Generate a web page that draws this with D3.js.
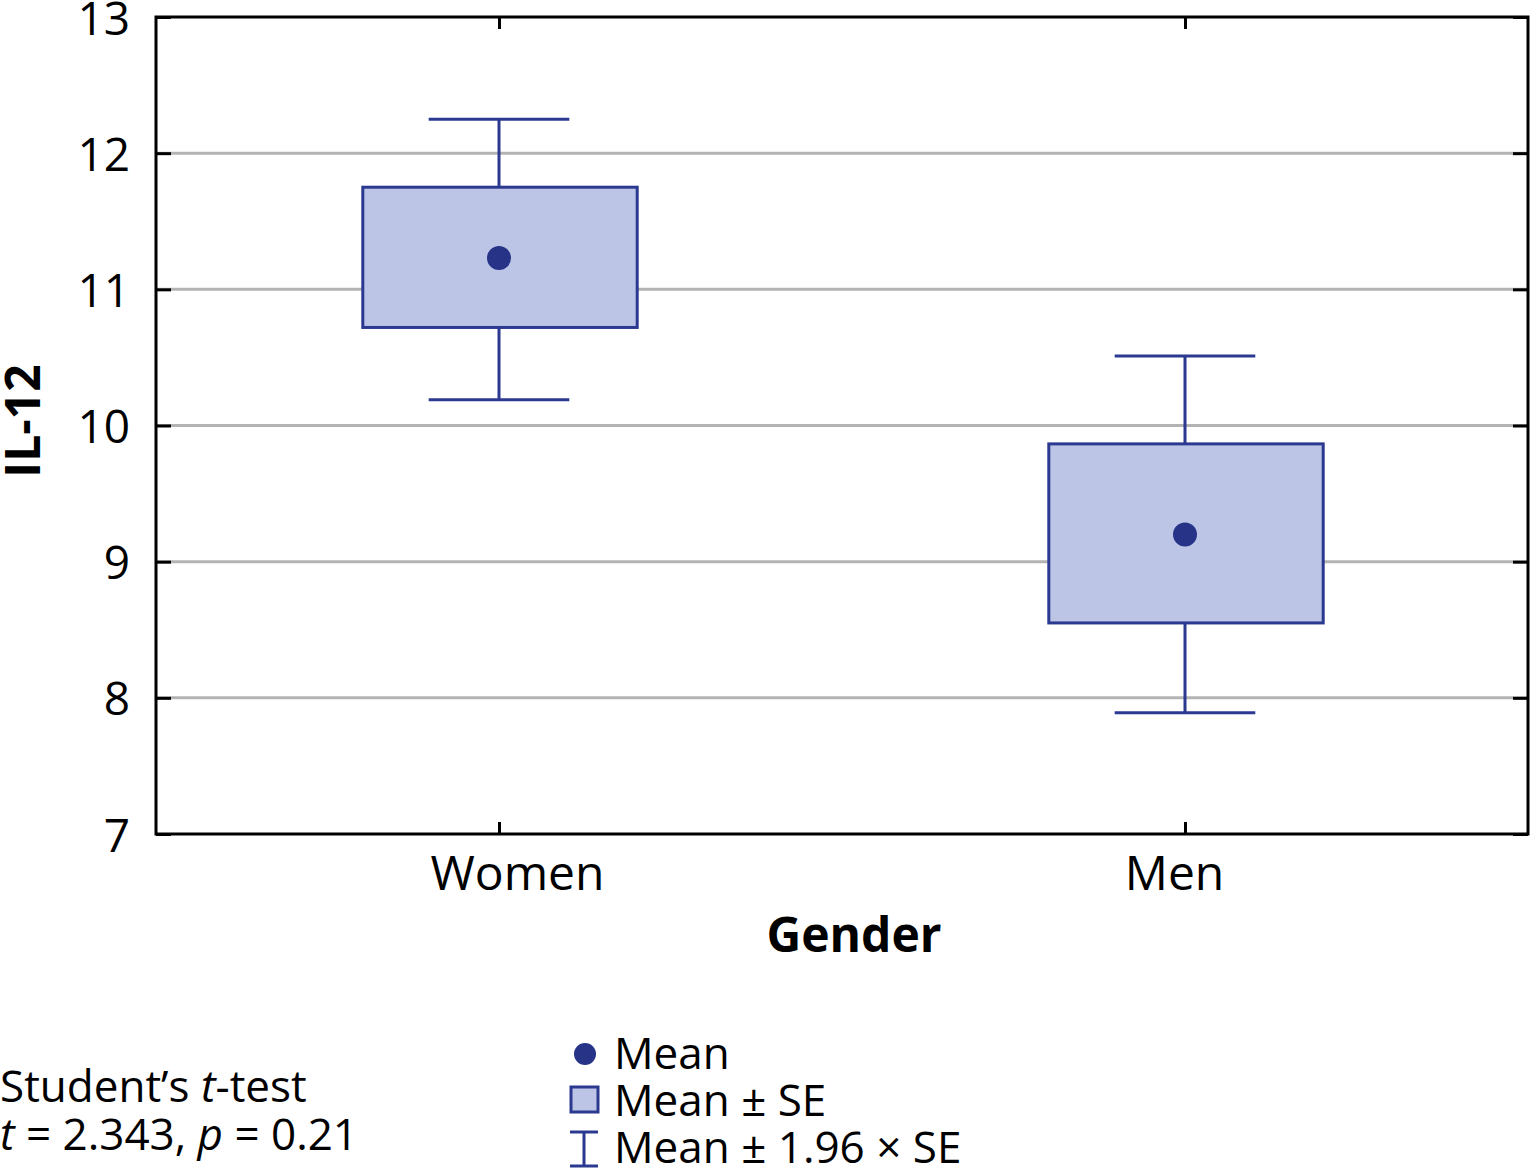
<html>
  <head>
    <meta charset="utf-8"/>
    <style>
      body {
        margin: 0;
        background: white;
      }
      text {
        font-family: "Open Sans", "Noto Sans", sans-serif;
        fill: black;
      }
    </style>
    <script src="https://d3js.org/d3.v7.min.js"></script>
  </head>
  <body>
    <script>
    var width = 1532, height = 1170;

    // values
    var groups = ["Women", "Men"];
    var means = [11.23, 9.20];
    var seLow = [10.72, 8.55];
    var seHigh = [11.75, 9.865];
    var ciLow = [10.19, 7.89];
    var ciHigh = [12.25, 10.51];
    var yTicks = [7, 8, 9, 10, 11, 12, 13];
    var gridTicks = [8, 9, 10, 11, 12];
    var legendLabels = ["Mean", "Mean \u00b1 SE", "Mean \u00b1 1.96 \u00d7 SE"];

    var blue = "#2b3990", fillBlue = "#bcc5e6", dotBlue = "#263387";
    var pL = 156, pR = 1528, pT = 17, pB = 834;

    var svg = d3.select("body").append("svg")
                .attr("width", width).attr("height", height);

    var x = d3.scalePoint().domain(groups).range([pL, pR]).padding(0.5);
    var y = d3.scaleLinear().domain([7, 13]).range([pB, pT]);

    // grid
    svg.append("g").selectAll("line")
       .data(gridTicks).enter().append("line")
       .attr("x1", pL).attr("x2", pR)
       .attr("y1", d => y(d)).attr("y2", d => y(d))
       .attr("stroke", "#b3b3b3").attr("stroke-width", 3);

    var data = groups.map((g, i) => ({
      g: g, mean: means[i], lo: seLow[i], hi: seHigh[i], cl: ciLow[i], ch: ciHigh[i]
    }));

    var boxW = x.step() * 0.4, capW = x.step() * 0.205;
    var box = svg.append("g").selectAll("g").data(data).enter().append("g");

    // whiskers
    box.append("line")
       .attr("x1", d => x(d.g)).attr("x2", d => x(d.g))
       .attr("y1", d => y(d.ch)).attr("y2", d => y(d.cl))
       .attr("stroke", blue).attr("stroke-width", 3);
    box.selectAll(".cap").data(d => [[d.g, d.ch], [d.g, d.cl]]).enter().append("line")
       .attr("x1", d => x(d[0]) - capW / 2).attr("x2", d => x(d[0]) + capW / 2)
       .attr("y1", d => y(d[1])).attr("y2", d => y(d[1]))
       .attr("stroke", blue).attr("stroke-width", 3);
    box.append("rect")
       .attr("x", d => x(d.g) - boxW / 2 + 1).attr("width", boxW)
       .attr("y", d => y(d.hi)).attr("height", d => y(d.lo) - y(d.hi))
       .attr("fill", fillBlue).attr("stroke", blue).attr("stroke-width", 3);
    box.append("circle")
       .attr("cx", d => x(d.g)).attr("cy", d => y(d.mean)).attr("r", 12)
       .attr("fill", dotBlue);

    // axes
    var yAxis = svg.append("g").attr("transform", "translate(" + pL + ",0)")
       .call(d3.axisLeft(y).tickValues(yTicks).tickSize(-15).tickPadding(26).tickFormat(d3.format("d")));
    yAxis.selectAll("text").style("font-size", "46px").attr("dy", "0.37em");
    svg.append("g").attr("transform", "translate(" + pR + ",0)")
       .call(d3.axisRight(y).tickValues(yTicks).tickSize(-15).tickFormat(""));
    var xAxis = svg.append("g").attr("transform", "translate(0," + pB + ")")
       .call(d3.axisBottom(x).tickSize(-12).tickPadding(22));
    xAxis.selectAll("text").style("font-size", "48px").attr("dy", "0.71em")
       .attr("dx", (d, i) => i === 0 ? 18 : -11);
    svg.append("g").attr("transform", "translate(0," + pT + ")")
       .call(d3.axisTop(x).tickSize(-12).tickFormat(""));
    svg.selectAll(".domain").remove();
    svg.selectAll(".tick line").attr("stroke", "black").attr("stroke-width", 3);

    svg.append("rect")
       .attr("x", pL).attr("y", pT).attr("width", pR - pL).attr("height", pB - pT)
       .attr("fill", "none").attr("stroke", "black").attr("stroke-width", 3);

    // titles
    svg.append("text").attr("x", 854).attr("y", 952)
       .attr("text-anchor", "middle").style("font-size", "48px").style("font-weight", "bold")
       .text("Gender");
    svg.append("text").attr("transform", "translate(40,421) rotate(-90)")
       .attr("text-anchor", "middle").style("font-size", "48px").style("font-weight", "bold")
       .text("IL-12");

    // stats note
    var s1 = svg.append("text").attr("x", 0).attr("y", 1102).style("font-size", "44px");
    s1.append("tspan").text("Student\u2019s ");
    s1.append("tspan").style("font-style", "italic").text("t");
    s1.append("tspan").text("-test");
    var s2 = svg.append("text").attr("x", 0).attr("y", 1150).style("font-size", "44px");
    s2.append("tspan").style("font-style", "italic").text("t");
    s2.append("tspan").text(" = 2.343, ");
    s2.append("tspan").style("font-style", "italic").text("p");
    s2.append("tspan").text(" = 0.21");

    // legend
    var lg = svg.append("g");
    lg.append("circle").attr("cx", 585).attr("cy", 1054).attr("r", 11).attr("fill", dotBlue);
    lg.append("rect").attr("x", 571).attr("y", 1087).attr("width", 27).attr("height", 25)
      .attr("fill", fillBlue).attr("stroke", blue).attr("stroke-width", 3);
    lg.append("line").attr("x1", 584).attr("x2", 584).attr("y1", 1132).attr("y2", 1166)
      .attr("stroke", blue).attr("stroke-width", 3);
    [1132, 1166].forEach(v => lg.append("line").attr("x1", 570).attr("x2", 598)
      .attr("y1", v).attr("y2", v).attr("stroke", blue).attr("stroke-width", 3));
    lg.selectAll(".lt").data(legendLabels).enter().append("text")
      .attr("x", 614).attr("y", (d, i) => 1069 + i * 47)
      .style("font-size", "44px").text(d => d);
    </script>
  </body>
</html>
